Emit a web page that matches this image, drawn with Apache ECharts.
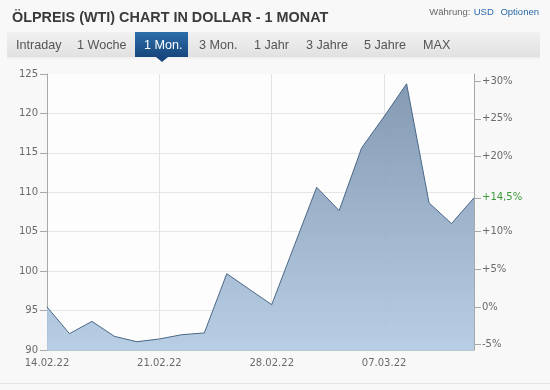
<!DOCTYPE html>
<html>
<head>
<meta charset="utf-8">
<script src="https://cdn.jsdelivr.net/npm/echarts@6/dist/echarts.min.js"></script>
<style>
html,body{margin:0;padding:0;background:#f8f8f8;}
#chart{width:550px;height:390px;}
</style>
</head>
<body>
<div id="chart"></div>
<script>
// ---- data ----
var dates = ['14.02.22','15.02.22','16.02.22','17.02.22','18.02.22',
             '21.02.22','22.02.22','23.02.22','24.02.22','25.02.22',
             '28.02.22','01.03.22','02.03.22','03.03.22','04.03.22',
             '07.03.22','08.03.22','09.03.22','10.03.22','11.03.22'];
var prices = [95.46, 92.07, 93.63, 91.73, 91.05,
              91.40, 91.94, 92.16, 99.68, 97.70,
              95.75, 103.20, 110.64, 107.68, 115.63,
              119.60, 123.76, 108.65, 106.03, 109.30];
var pctTicks = [30, 25, 20, 10, 5, 0, -5];
var tabs = ['Intraday','1 Woche','1 Mon.','3 Mon.','1 Jahr','3 Jahre','5 Jahre','MAX'];
var activeTab = '1 Mon.';
var titleText = 'ÖLPREIS (WTI) CHART IN DOLLAR - 1 MONAT';

var base = prices[0];
var last = prices[prices.length - 1];
var rightValues = pctTicks.map(function(p){ return base * (1 + p/100); });
rightValues.push(last);

function fmtPct(v){
  var p = (v/base - 1) * 100;
  var r = Math.round(p*10)/10;
  var s = (Math.abs(r - Math.round(r)) < 1e-9) ? String(Math.round(r)) : r.toFixed(1).replace('.', ',');
  if (r > 0) s = '+' + s;
  if (s === '-0') s = '0';
  return s + '%';
}

// ---- header graphics (tabs) ----
var tabX = [16, 77, 144, 199, 254, 306, 364, 423];
var g = [];
g.push({type:'rect', shape:{x:7,y:32,width:533,height:25},
  style:{fill:new echarts.graphic.LinearGradient(0,0,0,1,[{offset:0,color:'#f1f1f1'},{offset:1,color:'#e1e1e1'}])}, z:1});
g.push({type:'rect', shape:{x:7,y:57,width:533,height:3},
  style:{fill:new echarts.graphic.LinearGradient(0,0,0,1,[{offset:0,color:'#ececec'},{offset:1,color:'#f8f8f8'}])}, z:1});
tabs.forEach(function(t, i){
  var active = (t === activeTab);
  if (active) {
    g.push({type:'rect', shape:{x:135,y:32,width:53,height:25},
      style:{fill:new echarts.graphic.LinearGradient(0,0,0,1,[{offset:0,color:'#2d6eab'},{offset:1,color:'#17467c'}])}, z:2});
    g.push({type:'polygon', shape:{points:[[156,57],[168,57],[162,62]]}, style:{fill:'#17467c'}, z:2});
  }
  g.push({type:'text', x: tabX[i], y: 45.5, z:3,
    style:{text:t, fill: active ? '#ffffff' : '#555555', font:'12.6px "Liberation Sans", Arial, sans-serif', verticalAlign:'middle'}});
});
g.push({type:'text', x:539, y:12, z:3,
  style:{text:'{a|Währung:} {b|USD}  {b|Optionen}', align:'right', verticalAlign:'middle',
    rich:{a:{fill:'#666666', font:'9.5px "Liberation Sans", Arial, sans-serif'},
          b:{fill:'#2a68a8', font:'9.5px "Liberation Sans", Arial, sans-serif'}}}});
g.push({type:'rect', shape:{x:0,y:383,width:550,height:1}, style:{fill:'#e6e6e6'}, z:1});

var axisFont = '"DejaVu Sans", Verdana, sans-serif';
var chart = echarts.init(document.getElementById('chart'), null, {renderer:'canvas'});
chart.setOption({
  animation: false,
  backgroundColor: '#f8f8f8',
  title: {text: titleText, left: 7, top: 6,
    textStyle:{fontFamily:'"Liberation Sans", Arial, sans-serif', fontWeight:'bold', fontSize:14.4, color:'#3a3a3a'}},
  graphic: g,
  grid: {left: 47, right: 76, top: 74, bottom: 40, show: true, backgroundColor:'#fdfdfd', borderWidth: 0},
  xAxis: {
    type:'category', data: dates, boundaryGap: false,
    axisLine:{show:true, lineStyle:{color:'#b8c4d0'}},
    axisTick:{show:false},
    axisLabel:{interval:function(i){return i%5===0;}, color:'#6a6a6a', fontSize:10, fontFamily:axisFont, margin:8},
    splitLine:{show:true, interval:function(i){return i%5===0 && i>0;}, lineStyle:{color:'#e3e3e3'}}
  },
  yAxis: [{
    type:'value', position:'left', min:90, max:125, interval:5,
    axisLine:{show:true, lineStyle:{color:'#a8a8a8'}},
    axisTick:{show:true, length:7, lineStyle:{color:'#a8a8a8'}},
    axisLabel:{color:'#6a6a6a', fontSize:10, fontFamily:axisFont, margin:9},
    splitLine:{show:true, showMaxLine:false, showMinLine:false, lineStyle:{color:'#e6e6e6'}}
  },{
    type:'value', position:'right', min:90, max:125,
    axisLine:{show:true, lineStyle:{color:'#a8a8a8'}},
    axisTick:{show:true, length:7, customValues: rightValues, lineStyle:{color:'#a8a8a8'}},
    axisLabel:{customValues: rightValues, color:'#6a6a6a', fontSize:10, fontFamily:axisFont, margin:8,
      formatter:function(v){
        var s = fmtPct(v);
        return Math.abs(v - last) < 1e-6 ? '{g|' + s + '}' : s;
      },
      rich:{g:{color:'#3a9a3a', fontSize:10, fontFamily:axisFont}}},
    splitLine:{show:false}
  }],
  series: [{
    type:'line', data: prices, yAxisIndex:0, symbol:'none',
    lineStyle:{color:'#4a6786', width:1},
    areaStyle:{opacity:0.92, color:new echarts.graphic.LinearGradient(0,0,0,1,[
      {offset:0,color:'#7a92ad'},{offset:1,color:'#b1cae2'}])}
  }]
});
</script>
</body>
</html>
